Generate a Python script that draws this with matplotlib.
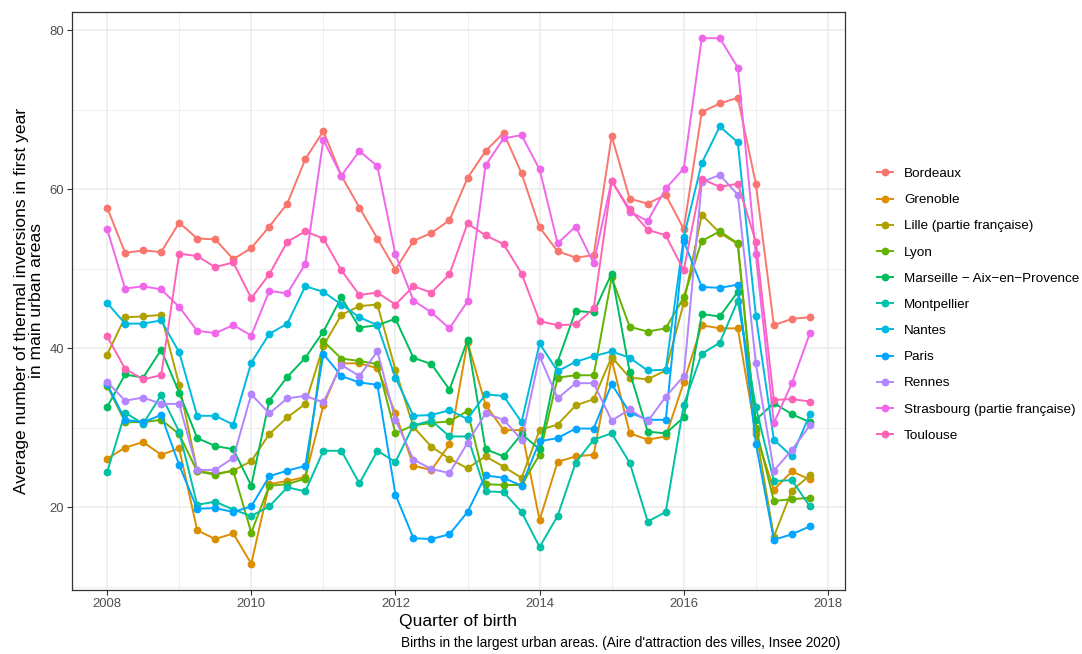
import matplotlib.pyplot as plt
import numpy as np

## quarterly series, 2008 Q1 .. 2017 Q4
quarters = 2008 + np.arange(40) * 0.25

bordeaux = [57.7, 52.0, 52.3, 52.1, 55.8, 53.8, 53.7, 51.2, 52.6, 55.3,
            58.2, 63.8, 67.3, 61.7, 57.7, 53.8, 49.9, 53.5, 54.5, 56.1,
            61.4, 64.8, 67.1, 62.0, 55.2, 52.2, 51.4, 51.7, 66.7, 58.8,
            58.2, 59.3, 55.0, 69.7, 70.8, 71.5, 60.7, 42.9, 43.7, 43.9]
grenoble = [26.1, 27.5, 28.2, 26.6, 27.4, 17.1, 16.0, 16.7, 12.9, 22.9,
            23.3, 23.8, 32.8, 38.1, 38.1, 37.5, 31.8, 25.2, 24.7, 27.9,
            40.8, 32.9, 29.7, 29.7, 18.4, 25.7, 26.4, 26.6, 38.6, 29.3,
            28.5, 28.9, 35.7, 42.9, 42.5, 42.5, 29.2, 22.2, 24.5, 23.5]
lille = [39.2, 43.9, 44.0, 44.2, 35.4, 24.6, 24.2, 24.6, 25.8, 29.2,
         31.3, 33.0, 40.3, 44.2, 45.3, 45.5, 37.3, 30.1, 27.6, 26.1,
         24.9, 26.4, 25.1, 23.7, 29.7, 30.4, 32.8, 33.6, 38.9, 36.3,
         36.1, 37.2, 45.7, 56.8, 54.5, 53.1, 29.6, 16.3, 22.1, 24.0]
lyon = [35.3, 30.7, 30.7, 31.0, 29.2, 24.5, 24.1, 24.6, 16.8, 22.7,
        22.9, 23.6, 40.9, 38.7, 38.4, 38.0, 29.3, 30.3, 30.6, 30.8,
        32.1, 22.9, 22.8, 22.8, 26.6, 36.3, 36.6, 36.6, 48.9, 42.7,
        42.1, 42.5, 46.4, 53.5, 54.7, 53.2, 30.0, 20.8, 21.0, 21.2]
marseille = [32.6, 36.7, 36.3, 39.8, 34.4, 28.7, 27.7, 27.3, 22.7, 33.4,
             36.4, 38.8, 42.1, 46.4, 42.6, 42.9, 43.7, 38.8, 38.0, 34.8,
             41.0, 27.3, 26.4, 29.2, 27.3, 38.3, 44.7, 44.5, 49.4, 37.0,
             29.5, 29.3, 31.3, 44.3, 44.0, 47.1, 31.0, 33.1, 31.7, 30.7]
montpellier = [24.4, 31.9, 30.5, 34.1, 29.5, 20.3, 20.7, 19.7, 18.9, 20.1,
               22.5, 22.0, 27.1, 27.1, 23.0, 27.1, 25.7, 30.3, 30.9, 28.9,
               28.9, 22.0, 21.9, 19.4, 15.0, 18.9, 25.6, 28.5, 29.3, 25.6,
               18.2, 19.4, 32.9, 39.3, 40.7, 46.0, 32.6, 23.3, 23.4, 20.1]
nantes = [45.7, 43.1, 43.1, 43.5, 39.5, 31.5, 31.5, 30.4, 38.2, 41.8,
          43.1, 47.8, 47.1, 45.5, 43.9, 42.9, 36.3, 31.5, 31.6, 32.2,
          31.1, 34.2, 34.0, 30.7, 40.6, 37.1, 38.3, 39.0, 39.6, 38.8,
          37.2, 37.3, 54.0, 63.3, 67.9, 65.9, 44.1, 28.5, 26.4, 31.7]
paris = [35.5, 31.0, 30.7, 31.6, 25.3, 19.8, 19.9, 19.4, 20.1, 23.9,
         24.6, 25.2, 39.3, 36.5, 35.7, 35.4, 21.6, 16.1, 16.0, 16.6,
         19.4, 24.0, 23.7, 22.7, 28.3, 28.7, 29.9, 29.9, 35.5, 31.9,
         31.0, 31.0, 53.5, 47.7, 47.6, 48.0, 28.0, 15.9, 16.6, 17.6]
rennes = [35.8, 33.4, 33.8, 33.0, 33.0, 24.7, 24.7, 26.2, 34.2, 31.8,
          33.7, 34.0, 33.2, 37.9, 36.5, 39.6, 31.0, 26.0, 24.8, 24.3,
          28.1, 31.8, 31.0, 28.5, 39.0, 33.7, 35.6, 35.6, 30.9, 32.3,
          30.8, 33.9, 36.5, 60.9, 61.8, 59.3, 38.1, 24.6, 27.2, 30.3]
strasbourg = [55.0, 47.5, 47.8, 47.4, 45.2, 42.2, 41.9, 42.9, 41.6, 47.2,
              46.9, 50.6, 66.2, 61.7, 64.8, 62.9, 51.8, 46.0, 44.5, 42.5,
              45.9, 63.0, 66.4, 66.8, 62.5, 53.2, 55.3, 50.7, 61.1, 57.2,
              56.0, 60.1, 62.6, 79.0, 79.0, 75.3, 51.8, 30.6, 35.6, 41.9]
toulouse = [41.5, 37.4, 36.1, 36.6, 51.9, 51.6, 50.2, 50.8, 46.3, 49.3,
            53.4, 54.7, 53.8, 49.8, 46.7, 47.0, 45.5, 47.8, 47.0, 49.3,
            55.7, 54.2, 53.1, 49.4, 43.4, 42.9, 43.0, 45.0, 61.0, 57.5,
            54.9, 54.2, 49.8, 61.3, 60.3, 60.7, 53.4, 33.5, 33.6, 33.3]

names = ['Bordeaux', 'Grenoble', 'Lille (partie française)', 'Lyon',
         'Marseille \u2212 Aix\u2212en\u2212Provence', 'Montpellier', 'Nantes',
         'Paris', 'Rennes', 'Strasbourg (partie française)', 'Toulouse']
series = [bordeaux, grenoble, lille, lyon, marseille, montpellier, nantes,
          paris, rennes, strasbourg, toulouse]
## default ggplot hue palette for 11 groups
colours = ['#F8766D', '#DB8E00', '#AEA200', '#64B200', '#00BD5C', '#00C1A7',
           '#00BADE', '#00A6FF', '#B385FF', '#EF67EB', '#FF63B6']

plt.rcParams['font.family'] = ['Liberation Sans', 'DejaVu Sans']

fig = plt.figure(figsize=(10.82, 6.54), dpi=100)
ax = fig.add_axes([0.0665, 0.098, 0.7145, 0.8837])

for name, vals, col in zip(names, series, colours):
    ax.plot(quarters, vals, color=col, lw=1.4, marker='o', ms=4.6,
            label=name, zorder=3)

ax.set_xlim(2007.5125, 2018.2375)
ax.set_ylim(9.6, 82.3)
ax.set_xticks([2008, 2010, 2012, 2014, 2016, 2018])
ax.set_yticks([20, 40, 60, 80])
ax.set_xticks([2009, 2011, 2013, 2015, 2017], minor=True)
ax.set_yticks([10, 30, 50, 70], minor=True)
ax.grid(True, which='major', color='#EBEBEB', lw=1.1, zorder=0)
ax.grid(True, which='minor', color='#EBEBEB', lw=0.55, zorder=0)
ax.tick_params(which='major', length=3.5, width=0.8, color='#333333',
               labelsize=9.4, labelcolor='#4D4D4D', pad=2)
ax.tick_params(which='minor', length=0)
for sp in ax.spines.values():
    sp.set_color('#333333')
    sp.set_linewidth(0.9)

ax.set_xlabel('Quarter of birth', fontsize=12.6, labelpad=3)
ax.set_ylabel('Average number of thermal inversions in first year\nin main urban areas',
              fontsize=12.6, labelpad=4, linespacing=1.0)

fig.legend(loc='center left', bbox_to_anchor=(0.7995, 0.534), frameon=False,
           fontsize=9.7, labelspacing=1.02, handlelength=1.2, handletextpad=0.8)

fig.text(0.777, 0.006, "Births in the largest urban areas. (Aire d'attraction des villes, Insee 2020)",
         ha='right', va='bottom', fontsize=9.8)

fig.savefig('out.png', dpi=100)
